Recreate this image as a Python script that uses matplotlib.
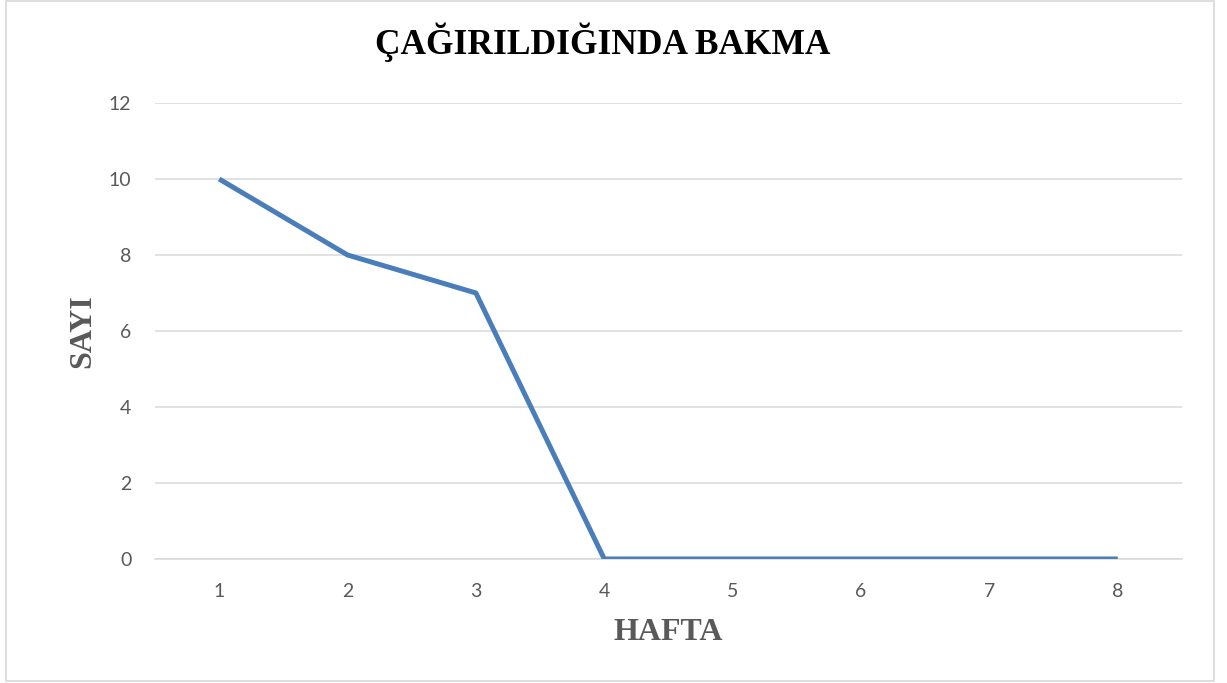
import matplotlib
matplotlib.use('Agg')
import matplotlib.pyplot as plt
from matplotlib.patches import Rectangle

# Chart data
weeks = ['1', '2', '3', '4', '5', '6', '7', '8']
counts = [10, 8, 7, 0, 0, 0, 0, 0]
y_ticks = [0, 2, 4, 6, 8, 10, 12]

title_text = 'ÇAĞIRILDIĞINDA BAKMA'
x_label = 'HAFTA'
y_label = 'SAYI'

line_color = '#4a7ebb'
grid_color = '#d9d9d9'
text_color = '#595959'

fig = plt.figure(figsize=(12.27, 6.83), dpi=100)
ax = fig.add_axes([0.1263, 0.1816, 0.837, 0.6676])

x = list(range(1, len(weeks) + 1))
ax.plot(x, counts, color=line_color, linewidth=3.6, solid_capstyle='butt', zorder=3)

ax.set_xlim(0.5, len(weeks) + 0.5)
ax.set_ylim(0, 12)
ax.set_xticks(x)
ax.set_xticklabels(weeks)
ax.set_yticks(y_ticks)

ax.grid(axis='y', color=grid_color, linewidth=1.1)
ax.set_axisbelow(True)
for side in ['top', 'right', 'left']:
    ax.spines[side].set_visible(False)
ax.spines['bottom'].set_color(grid_color)
ax.spines['bottom'].set_linewidth(1.1)

ax.tick_params(axis='both', length=0, labelsize=14, labelcolor=text_color)
ax.tick_params(axis='y', pad=17)
ax.tick_params(axis='x', pad=17)
for lbl in ax.get_xticklabels() + ax.get_yticklabels():
    lbl.set_family('Lato')

serif = ['Liberation Serif', 'DejaVu Serif']
ax.set_xlabel(x_label, fontsize=23, fontweight='bold', family=serif,
              color=text_color, labelpad=13)
ax.set_ylabel(y_label, fontsize=23, fontweight='bold', family=serif,
              color=text_color, labelpad=8)
fig.text(0.491, 0.938, title_text, ha='center', va='center', fontsize=25.5,
         fontweight='bold', family=serif, color='black')

# light border around the chart area
fig.patches.append(Rectangle((0.005, 0.003), 0.984, 0.995, transform=fig.transFigure,
                             fill=False, edgecolor=grid_color, linewidth=1.2))

fig.savefig('out.png', dpi=100, facecolor='white')
